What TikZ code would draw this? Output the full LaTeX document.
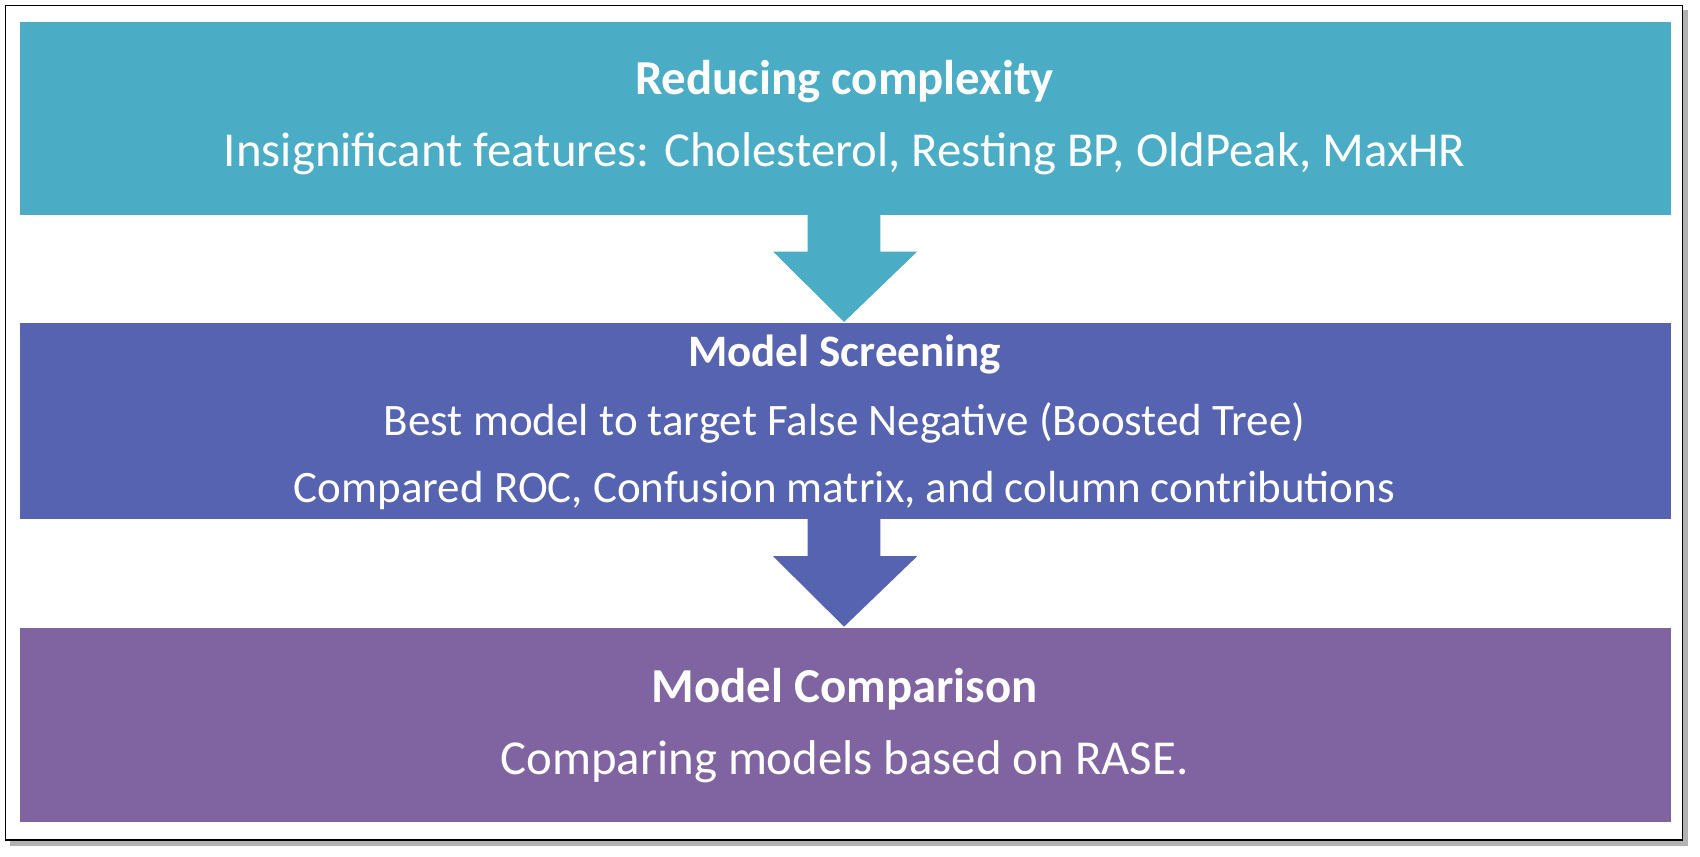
\documentclass[tikz,border=0pt]{standalone}
\usepackage{fontspec}
\setmainfont{Carlito}
\begin{document}
\begin{tikzpicture}[x=1pt,y=-1pt,
  txt/.style={text=white,anchor=center,inner sep=0pt},
  ttl/.style={txt,font=\fontsize{45}{50}\selectfont\bfseries},
  big/.style={txt,font=\fontsize{45}{50}\selectfont},
  sml/.style={txt,font=\fontsize{41.5}{46}\selectfont}]
\definecolor{c1}{HTML}{4BACC6}
\definecolor{c2}{HTML}{5563B0}
\definecolor{c3}{HTML}{8064A2}
\useasboundingbox (0,0) rectangle (1568,790);
\fill[gray!60] (9,9) rectangle (1557,780);
\draw[fill=white,line width=1.5pt] (5,5) rectangle (1552,775);
\fill[c1] (18,20) rectangle (1541,198);
\fill[c1] (745,197) -- (812,197) -- (812,232) -- (846,232) -- (778.5,297) -- (713,232) -- (745,232) -- cycle;
\fill[c2] (18,298) rectangle (1541,479);
\fill[c2] (745,478) -- (812,478) -- (812,513) -- (846,513) -- (778.5,578) -- (713,513) -- (745,513) -- cycle;
\fill[c3] (18,579) rectangle (1541,758);
\node[ttl] (t1) at (779,75) {Reducing complexity};
\node[big] (l1) at (779,142) {Insignificant features: Cholesterol, Resting BP, OldPeak, MaxHR};
\node[sml,font=\fontsize{41.5}{46}\selectfont\bfseries] (t2) at (779,327) {Model Screening};
\node[sml] (l2) at (779,390) {Best model to target False Negative (Boosted Tree)};
\node[sml] (l3) at (779,452) {Compared ROC, Confusion matrix, and column contributions};
\node[ttl] (t3) at (779,636) {Model Comparison};
\node[big] (l4) at (779,703) {Comparing models based on RASE.};
\end{tikzpicture}
\end{document}
